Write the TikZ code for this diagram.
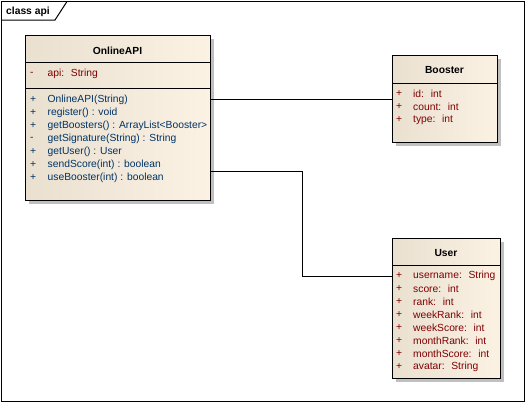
\documentclass[tikz,border=0pt]{standalone}
\usepackage{fontspec}
\setmainfont{Liberation Sans}
\usetikzlibrary{shadows,positioning}
\definecolor{boxleft}{RGB}{233,224,208}
\definecolor{boxright}{RGB}{252,242,228}
\definecolor{attrred}{RGB}{128,0,0}
\definecolor{opblue}{RGB}{0,51,102}
\definecolor{shadowgray}{RGB}{192,192,192}

\begin{document}
\begin{tikzpicture}[
        x=1bp, y=-1bp,
        font=\fontsize{10.3bp}{12bp}\selectfont,
        classbox/.style={rectangle, draw=black, line width=1bp, left color=boxleft, right color=boxright, anchor=north west, inner sep=0pt, drop shadow={shadow xshift=3bp, shadow yshift=-3bp, fill=shadowgray, opacity=1}},
        classname/.style={font=\fontsize{10.3bp}{12bp}\selectfont\bfseries},
        member/.style={anchor=west, inner sep=0pt},
        divider/.style={line width=1bp},
        link/.style={line width=1bp}
    ]

        % Frame
        \useasboundingbox (0,0) rectangle (526,403);
        \draw[line width=1bp] (1.5,1.5) rectangle (524.5,401.5);
        \draw[line width=1bp] (1.5,20) -- (55,20) -- (67,1.5);
        \node[classname, anchor=west, inner sep=0pt] (framelabel) at (6,11.5) {class api};

        % OnlineAPI class
        \node[classbox, minimum width=185bp, minimum height=165bp] (api) at (25,35) {};
        \node[classname] (apititle) at (117.5,51) {OnlineAPI};
        \draw[divider] (25,62) -- (210,62);
        \draw[divider] (25,88) -- (210,88);
        \node[member, attrred] (apivis) at (30,74) {-};
        \node[member, attrred] (apiattr) at (47.5,74) {api:~ String};
        \foreach \v/\t [count=\i from 0] in {+/OnlineAPI(String), +/register() : void, +/getBoosters() : ArrayList<Booster>, -/getSignature(String) : String, +/getUser() : User, +/sendScore(int) : boolean, +/useBooster(int) : boolean}
        {
            \node[member, opblue] (opvis\i) at (30,100+13*\i) {\v};
            \node[member, opblue] (op\i) at (47.5,100+13*\i) {\t};
        }

        % Booster class
        \node[classbox, minimum width=105bp, minimum height=87bp] (booster) at (392,55) {};
        \node[classname] (boostertitle) at (444.5,70) {Booster};
        \draw[divider] (392,83) -- (497,83);
        \foreach \t [count=\i from 0] in {id:~ int, count:~ int, type:~ int}
        {
            \node[member, attrred] (bvis\i) at (396,94+13*\i) {+};
            \node[member, attrred] (battr\i) at (413,94+13*\i) {\t};
        }

        % User class
        \node[classbox, minimum width=108bp, minimum height=140bp] (user) at (392,238) {};
        \node[classname] (usertitle) at (446,253) {User};
        \draw[divider] (392,265) -- (500,265);
        \foreach \t [count=\i from 0] in {username:~ String, score:~ int, rank:~ int, weekRank:~ int, weekScore:~ int, monthRank:~ int, monthScore:~ int, avatar:~ String}
        {
            \node[member, attrred] (uvis\i) at (396,276+13*\i) {+};
            \node[member, attrred] (uattr\i) at (413,276+13*\i) {\t};
        }

        % Associations
        \draw[link] (booster.west) -- (booster.west -| api.east);
        \coordinate (bendtop) at (302,171);
        \coordinate (bendbottom) at (302,276);
        \draw[link] (api.east |- bendtop) -- (bendtop) -- (bendbottom) -- (bendbottom -| user.west);

    \end{tikzpicture}
\end{document}
